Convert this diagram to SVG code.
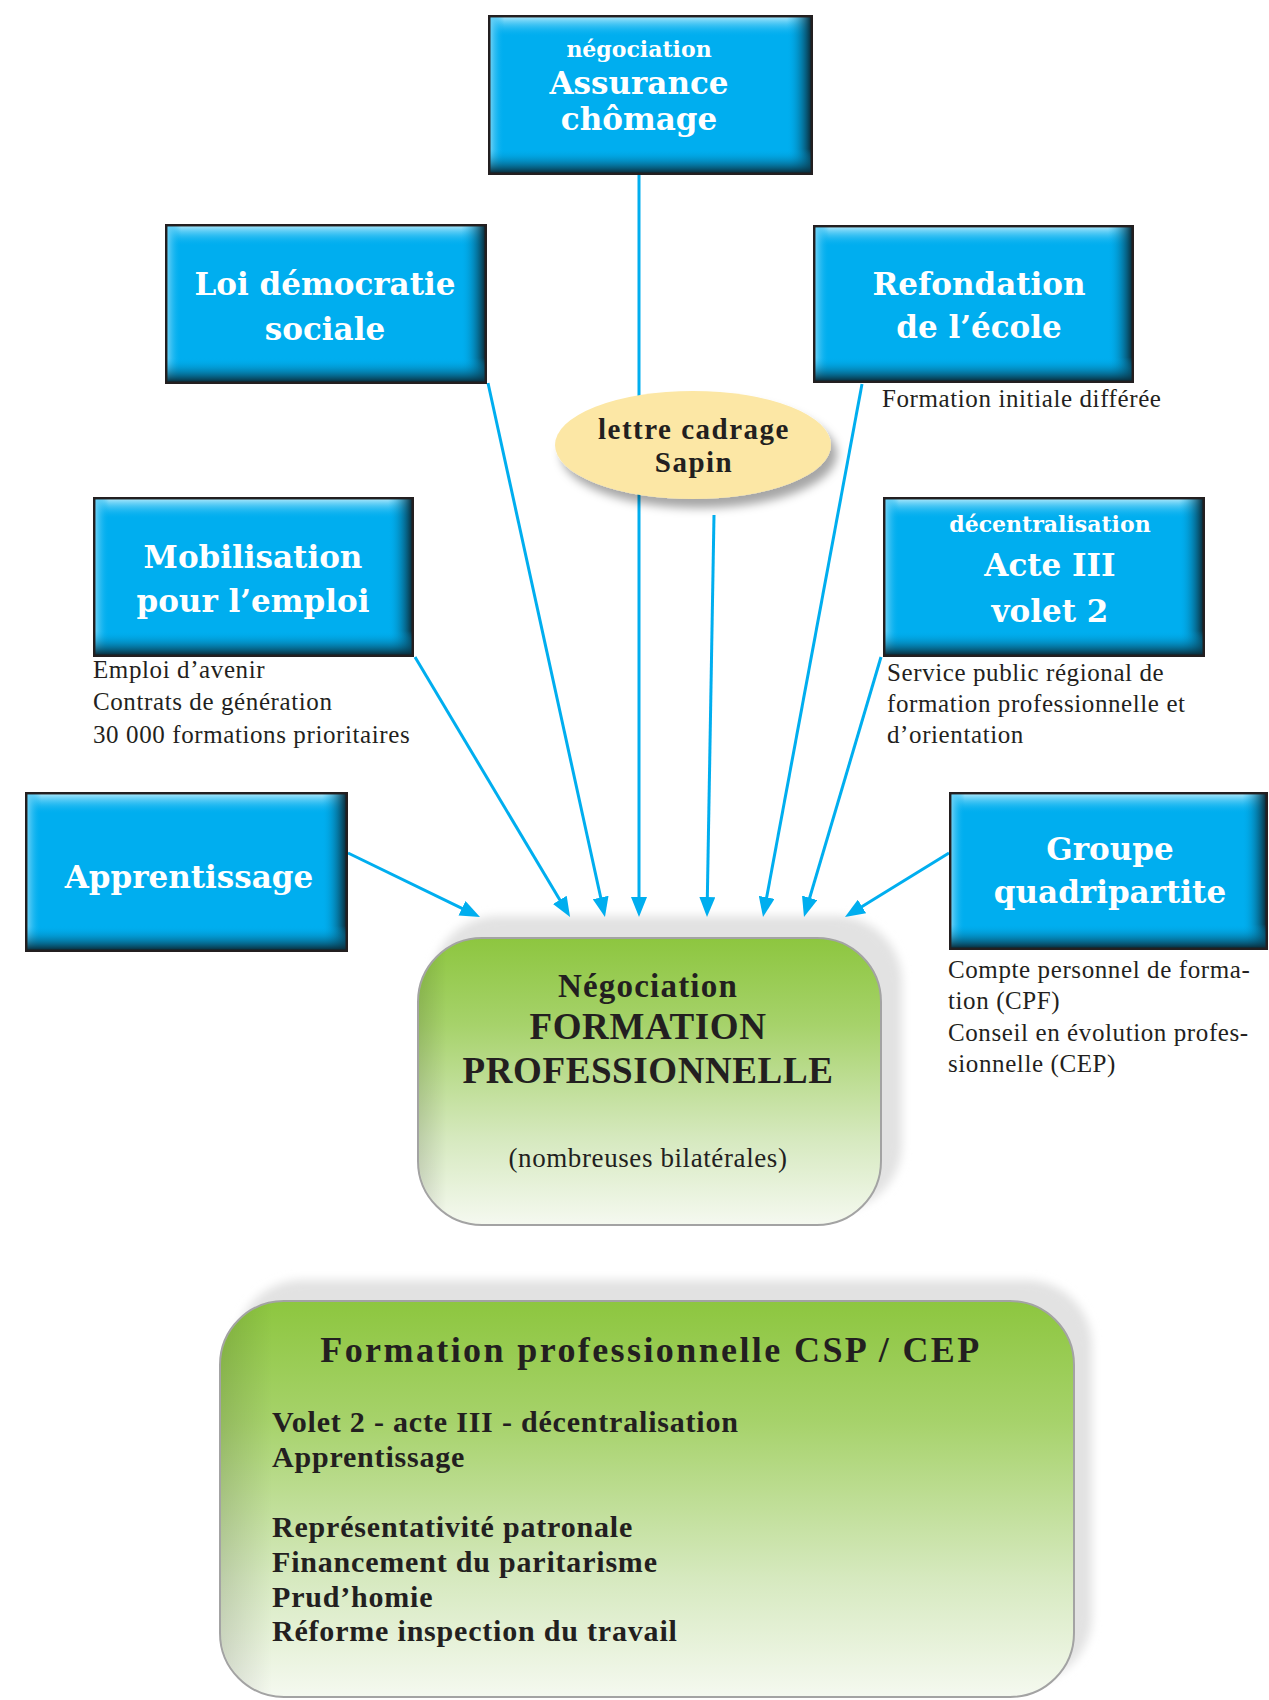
<svg xmlns="http://www.w3.org/2000/svg" xmlns:xlink="http://www.w3.org/1999/xlink" width="1269" height="1700" viewBox="0 0 1269 1700">
<style>
.bt{font-family:"DejaVu Serif",serif;font-weight:bold;fill:#ffffff;text-anchor:middle;font-size:31px}
.bs{font-size:22px}
.sub{font-family:"Liberation Serif","Times New Roman",serif;font-size:25px;fill:#231F20;letter-spacing:0.6px}
.dk{font-family:"Liberation Serif","Times New Roman",serif;font-weight:bold;fill:#231F20}
.ctr{text-anchor:middle}
.con{stroke:#00AEEF;stroke-width:3;fill:none;marker-end:url(#arr)}
</style>
<defs>
<linearGradient id="hiT" x1="0" y1="0" x2="0" y2="1"><stop offset="0" stop-color="#A8E6FB"/><stop offset="1" stop-color="#00AEEF" stop-opacity="0"/></linearGradient>
<linearGradient id="hiL" x1="0" y1="0" x2="1" y2="0"><stop offset="0" stop-color="#6FD2F6"/><stop offset="1" stop-color="#00AEEF" stop-opacity="0"/></linearGradient>
<linearGradient id="shR" x1="0" y1="0" x2="1" y2="0"><stop offset="0" stop-color="#00AEEF" stop-opacity="0"/><stop offset="1" stop-color="#0A2C3A"/></linearGradient>
<linearGradient id="shB" x1="0" y1="0" x2="0" y2="1"><stop offset="0" stop-color="#00AEEF" stop-opacity="0"/><stop offset="1" stop-color="#0A2C3A"/></linearGradient>
<linearGradient id="green" x1="0" y1="0" x2="0" y2="1"><stop offset="0" stop-color="#8DC63F"/><stop offset="0.3" stop-color="#A6D26A"/><stop offset="0.7" stop-color="#D6E9BF"/><stop offset="1" stop-color="#F5F9F0"/></linearGradient>
<linearGradient id="gleft" x1="0" y1="0" x2="1" y2="0"><stop offset="0" stop-color="#000" stop-opacity="0.12"/><stop offset="0.06" stop-color="#000" stop-opacity="0"/></linearGradient>
<filter id="blur" x="-10%" y="-10%" width="120%" height="120%"><feGaussianBlur stdDeviation="5"/></filter>
<filter id="eshadow" x="-20%" y="-30%" width="150%" height="170%"><feDropShadow dx="6" dy="9" stdDeviation="5" flood-color="#000" flood-opacity="0.35"/></filter>
<marker id="arr" markerUnits="userSpaceOnUse" markerWidth="20" markerHeight="16" refX="8" refY="8" orient="auto"><path d="M0,0 L20,8 L0,16 z" fill="#00AEEF"/></marker>
<symbol id="bluebox" viewBox="0 0 322 160" preserveAspectRatio="none">
<rect x="0" y="0" width="322" height="160" fill="#00AEEF"/>
<rect x="2" y="2" width="318" height="20" fill="url(#hiT)"/>
<rect x="2" y="2" width="14" height="156" fill="url(#hiL)"/>
<rect x="296" y="2" width="24" height="156" fill="url(#shR)"/>
<rect x="2" y="134" width="318" height="24" fill="url(#shB)"/>
<rect x="1.2" y="1.2" width="319.6" height="157.6" fill="none" stroke="#231F20" stroke-width="2.5"/>
</symbol>
</defs>
<rect x="0" y="0" width="1269" height="1700" fill="#ffffff"/>

<g id="central">
<rect x="432" y="916" width="470" height="294" rx="66" fill="#E2E2E2" filter="url(#blur)"/>
<rect x="418" y="938" width="463" height="287" rx="64" fill="url(#green)" stroke="#A3A3A3" stroke-width="2"/>
<rect x="419" y="939" width="461" height="285" rx="63" fill="url(#gleft)"/>
<text class="dk ctr" x="648" y="997" font-size="33" letter-spacing="1.2">Négociation</text>
<text class="dk ctr" x="648" y="1039" font-size="37" letter-spacing="0.6">FORMATION</text>
<text class="dk ctr" x="648" y="1083" font-size="37" letter-spacing="0.6">PROFESSIONNELLE</text>
<text class="ctr" x="648" y="1167" font-family="Liberation Serif, serif" font-size="27" fill="#231F20" letter-spacing="0.6">(nombreuses bilatérales)</text>
</g>

<g id="connectors">
<line class="con" x1="348" y1="853" x2="469.2" y2="911.8"/>
<line class="con" x1="415" y1="657" x2="563.9" y2="906.7"/>
<line class="con" x1="488" y1="383" x2="602.4" y2="905.3"/>
<line class="con" x1="639" y1="175" x2="639" y2="905"/>
<line class="con" x1="714" y1="515" x2="707.2" y2="905"/>
<line class="con" x1="862" y1="384" x2="765.2" y2="905.2"/>
<line class="con" x1="881" y1="657" x2="807.4" y2="905.5"/>
<line class="con" x1="949" y1="853" x2="855.2" y2="910.7"/>
</g>

<g id="assurance">
<use href="#bluebox" x="488" y="15" width="325" height="160"/>
<text class="bt bs" x="639" y="57">négociation</text>
<text class="bt" x="639" y="94">Assurance</text>
<text class="bt" x="639" y="130">chômage</text>
</g>

<g id="loi">
<use href="#bluebox" x="165" y="224" width="322" height="160"/>
<text class="bt" x="325" y="295">Loi démocratie</text>
<text class="bt" x="325" y="340">sociale</text>
</g>

<g id="refondation">
<use href="#bluebox" x="813" y="225" width="321" height="158"/>
<text class="bt" x="979" y="295">Refondation</text>
<text class="bt" x="979" y="338">de l’école</text>
<text class="sub" x="882" y="407">Formation initiale différée</text>
</g>

<g id="lettre">
<ellipse cx="693" cy="445" rx="138" ry="54" fill="#FCE7A5" filter="url(#eshadow)"/>
<text class="dk ctr" x="694" y="439" font-size="29" letter-spacing="1.5">lettre cadrage</text>
<text class="dk ctr" x="694" y="472" font-size="29" letter-spacing="1.5">Sapin</text>
</g>

<g id="mobilisation">
<use href="#bluebox" x="93" y="497" width="321" height="160"/>
<text class="bt" x="253" y="568">Mobilisation</text>
<text class="bt" x="253" y="612">pour l’emploi</text>
<text class="sub" x="93" y="678">Emploi d’avenir</text>
<text class="sub" x="93" y="710">Contrats de génération</text>
<text class="sub" x="93" y="743">30 000 formations prioritaires</text>
</g>

<g id="acte3">
<use href="#bluebox" x="883" y="497" width="322" height="160"/>
<text class="bt bs" x="1050" y="532">décentralisation</text>
<text class="bt" x="1050" y="576">Acte III</text>
<text class="bt" x="1050" y="622">volet 2</text>
<text class="sub" x="887" y="681">Service public régional de</text>
<text class="sub" x="887" y="712">formation professionnelle et</text>
<text class="sub" x="887" y="743">d’orientation</text>
</g>

<g id="apprentissage">
<use href="#bluebox" x="25" y="792" width="323" height="160"/>
<text class="bt" x="189" y="888">Apprentissage</text>
</g>

<g id="groupe">
<use href="#bluebox" x="949" y="792" width="319" height="158"/>
<text class="bt" x="1110" y="860">Groupe</text>
<text class="bt" x="1110" y="903">quadripartite</text>
<text class="sub" x="948" y="978">Compte personnel de forma-</text>
<text class="sub" x="948" y="1009">tion (CPF)</text>
<text class="sub" x="948" y="1041">Conseil en évolution profes-</text>
<text class="sub" x="948" y="1072">sionnelle (CEP)</text>
</g>

<g id="bottom">
<rect x="236" y="1280" width="856" height="402" rx="66" fill="#E2E2E2" filter="url(#blur)"/>
<rect x="220" y="1301" width="854" height="396" rx="64" fill="url(#green)" stroke="#A3A3A3" stroke-width="2"/>
<rect x="221" y="1302" width="852" height="394" rx="63" fill="url(#gleft)"/>
<text class="dk ctr" x="651" y="1362" font-size="36" letter-spacing="2.4">Formation professionnelle CSP / CEP</text>
<text class="dk" x="272" y="1432" font-size="30" letter-spacing="0.8">Volet 2 - acte III - décentralisation</text>
<text class="dk" x="272" y="1467" font-size="30" letter-spacing="0.8">Apprentissage</text>
<text class="dk" x="272" y="1537" font-size="30" letter-spacing="0.8">Représentativité patronale</text>
<text class="dk" x="272" y="1572" font-size="30" letter-spacing="0.8">Financement du paritarisme</text>
<text class="dk" x="272" y="1607" font-size="30" letter-spacing="0.8">Prud’homie</text>
<text class="dk" x="272" y="1641" font-size="30" letter-spacing="0.8">Réforme inspection du travail</text>
</g>
</svg>
